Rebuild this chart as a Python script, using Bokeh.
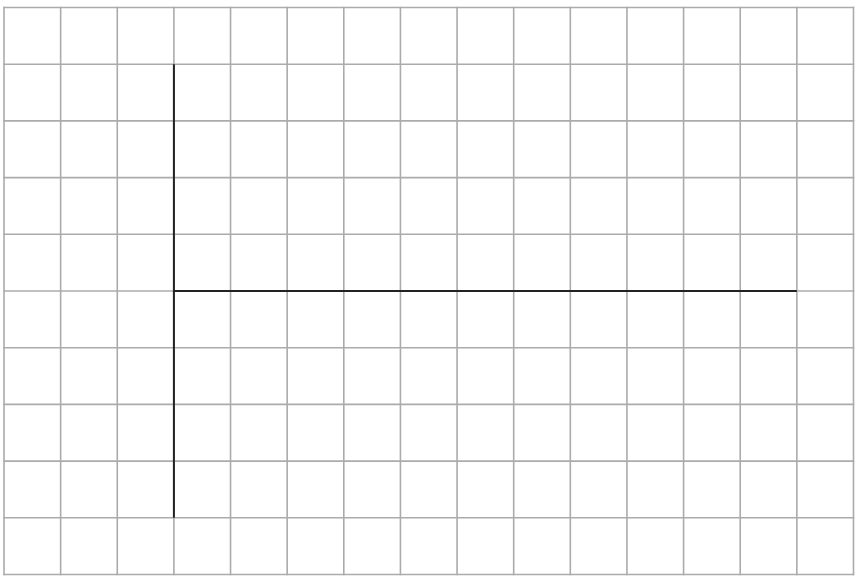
"""
empty coordinate frame drawn on square graph paper
"""
from bokeh.plotting import figure
from bokeh.models import Range1d
from bokeh.embed import file_html
from bokeh.resources import INLINE


# grid cells of the paper
grid_x = list(range(0, 16))
grid_y = list(range(0, 11))

# the two axis lines, in grid units
x_axis_start = [3]
x_axis_end = [14]
x_axis_level = [5]

y_axis_start = [1]
y_axis_end = [9]
y_axis_level = [3]


# figure covering the whole window
p = figure(
    width=857,
    height=577,
    x_range=Range1d(-0.062, 15.071),
    y_range=Range1d(-0.053, 10.123),
    output_backend="svg",
    toolbar_location=None,
    min_border=0,
)
p.axis.visible = False
p.grid.visible = False
p.outline_line_color = None
p.background_fill_color = "white"
p.border_fill_color = "white"

# graph paper lines, closed by the outer border
x_lo, x_hi = grid_x[0], grid_x[-1]
y_lo, y_hi = grid_y[0], grid_y[-1]

p.segment(
    x0=grid_x,
    y0=[y_lo] * len(grid_x),
    x1=grid_x,
    y1=[y_hi] * len(grid_x),
    line_color="#ababae",
    line_width=1.6,
    line_cap="square",
)
p.segment(
    x0=[x_lo] * len(grid_y),
    y0=grid_y,
    x1=[x_hi] * len(grid_y),
    y1=grid_y,
    line_color="#ababae",
    line_width=1.6,
    line_cap="square",
)

# horizontal axis line
p.segment(
    x0=x_axis_start,
    y0=x_axis_level,
    x1=x_axis_end,
    y1=x_axis_level,
    line_color="#222222",
    line_width=2,
)

# vertical axis line
p.segment(
    x0=y_axis_level,
    y0=y_axis_start,
    x1=y_axis_level,
    y1=y_axis_end,
    line_color="#222222",
    line_width=2,
)

open("out.html", "w").write(file_html(p, INLINE))
